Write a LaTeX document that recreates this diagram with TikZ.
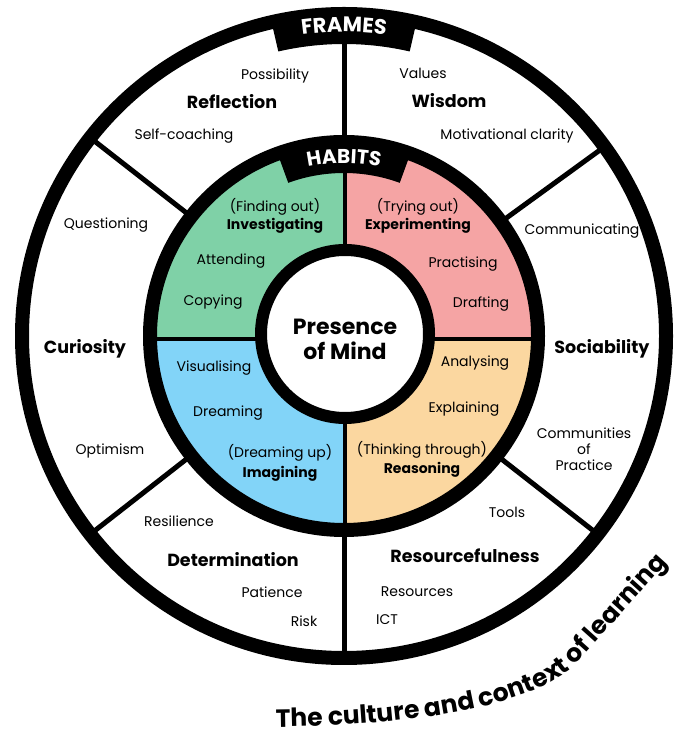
\documentclass[tikz,border=0pt]{standalone}
\usepackage{fontspec}
\setmainfont{Poppins}
\usetikzlibrary{calc,decorations.text}
\definecolor{hgreen}{HTML}{7FD1A7}
\definecolor{hpink}{HTML}{F5A4A4}
\definecolor{hblue}{HTML}{82D4F8}
\definecolor{hpeach}{HTML}{FBD7A0}
\begin{document}
\begin{tikzpicture}[x=1pt,y=1pt,
  txt/.style={font=\fontsize{14}{16}\selectfont, inner sep=0pt, anchor=base},
  btxt/.style={font=\bfseries\fontsize{17.5}{19}\selectfont, inner sep=0pt, anchor=base},
  htxt/.style={font=\bfseries\fontsize{14}{16}\selectfont, inner sep=0pt, anchor=base},
  ctxt/.style={font=\bfseries\fontsize{22}{24}\selectfont, inner sep=0pt, anchor=base},
  spoke/.style={line width=5pt},
  ring/.style={line width=14pt},
  divider/.style={line width=4.5pt}]
\path[use as bounding box, fill=white] (0,0) rectangle (679,733);
\coordinate (C) at (344,397);
\coordinate (D) at (345,394);
\coordinate (I) at (345,399);
\coordinate (S) at (278,6);
\coordinate (M) at (578,71);
\coordinate (E) at (666,169);
% habit quadrants
\begin{scope}
  \clip (C) circle (194);
  \fill[hgreen] (D) rectangle (140,600);
  \fill[hpink] (D) rectangle (550,600);
  \fill[hblue] (D) rectangle (140,190);
  \fill[hpeach] (D) rectangle (550,190);
  \draw[divider] (345,190) -- (345,600);
  \draw[divider] (140,394) -- (550,394);
\end{scope}
% spokes
\foreach \a in {90,142,218,270,322,36}
  \draw[spoke] ($(C)+(\a:194)$) -- ($(C)+(\a:322)$);
% rings
\draw[ring] (C) circle (322);
\draw[ring] (C) circle (194);
% tabs
\fill ($(C)+(70:163)$) arc[start angle=70,end angle=110,radius=163]
  -- ($(C)+(110:196)$) arc[start angle=110,end angle=70,radius=196] -- cycle;
\fill ($(C)+(77:292)$) arc[start angle=77,end angle=103,radius=292]
  -- ($(C)+(103:324)$) arc[start angle=103,end angle=77,radius=324] -- cycle;
% inner circle
\draw[line width=12pt, fill=white] (I) circle (84);
% curved titles
\path[decorate, decoration={text along path, text align=center, text color=white,
  text={|\bfseries\fontsize{21}{21}\selectfont|FRAMES}}]
  ($(C)+(110:304)$) arc[start angle=110,end angle=70,radius=304];
\path[decorate, decoration={text along path, text align=center, text color=white,
  text={|\bfseries\fontsize{20}{20}\selectfont|HABITS}}]
  ($(C)+(120:173)$) arc[start angle=120,end angle=60,radius=173];
\path[decorate, decoration={text along path, text align=center,
  text={|\bfseries\fontsize{25}{25}\selectfont|The culture and context of learning}}]
  (S) .. controls (430,8) and (541,30) .. (M) -- (E);
% centre
\node[ctxt] (presence) at (345,398) {Presence};
\node[ctxt] (ofmind) at (345,373) {of Mind};
% frames
\node[txt] (possibility) at (275,653) {Possibility};
\node[btxt] (reflection) at (232,624) {Reflection};
\node[txt] (selfcoach) at (184,593) {Self-coaching};
\node[txt] (values) at (423,654) {Values};
\node[btxt] (wisdom) at (449,625) {Wisdom};
\node[txt] (motiv) at (507,593) {Motivational clarity};
\node[txt] (question) at (106,504) {Questioning};
\node[txt] (commun) at (582,498) {Communicating};
\node[btxt] (curiosity) at (85,379) {Curiosity};
\node[btxt] (sociab) at (602,379) {Sociability};
\node[txt] (optimism) at (110,278) {Optimism};
\node[txt] (communities) at (584,294) {Communities};
\node[txt] (of) at (584,278) {of};
\node[txt] (practice) at (584,262) {Practice};
\node[txt] (resil) at (179,206) {Resilience};
\node[txt] (tools) at (507,215) {Tools};
\node[btxt] (determ) at (233,166) {Determination};
\node[btxt] (resourcef) at (465,170) {Resourcefulness};
\node[txt] (patience) at (272,135) {Patience};
\node[txt] (resources) at (417,136) {Resources};
\node[txt] (risk) at (304,106) {Risk};
\node[txt] (ict) at (387,108) {ICT};
% habits
\node[txt] (findout) at (275,521) {(Finding out)};
\node[htxt] (investig) at (275,503) {Investigating};
\node[txt] (attend) at (231,468) {Attending};
\node[txt] (copy) at (213,427) {Copying};
\node[txt] (tryout) at (418,521) {(Trying out)};
\node[htxt] (experim) at (418,503) {Experimenting};
\node[txt] (practis) at (463,465) {Practising};
\node[txt] (draft) at (481,425) {Drafting};
\node[txt] (visual) at (214,361) {Visualising};
\node[txt] (dreaming) at (228,316) {Dreaming};
\node[txt] (dreamup) at (280,275) {(Dreaming up)};
\node[htxt] (imagin) at (280,255) {Imagining};
\node[txt] (analys) at (475,366) {Analysing};
\node[txt] (explain) at (464,320) {Explaining};
\node[txt] (thinkthr) at (422,278) {(Thinking through)};
\node[htxt] (reason) at (422,259) {Reasoning};
\end{tikzpicture}
\end{document}
